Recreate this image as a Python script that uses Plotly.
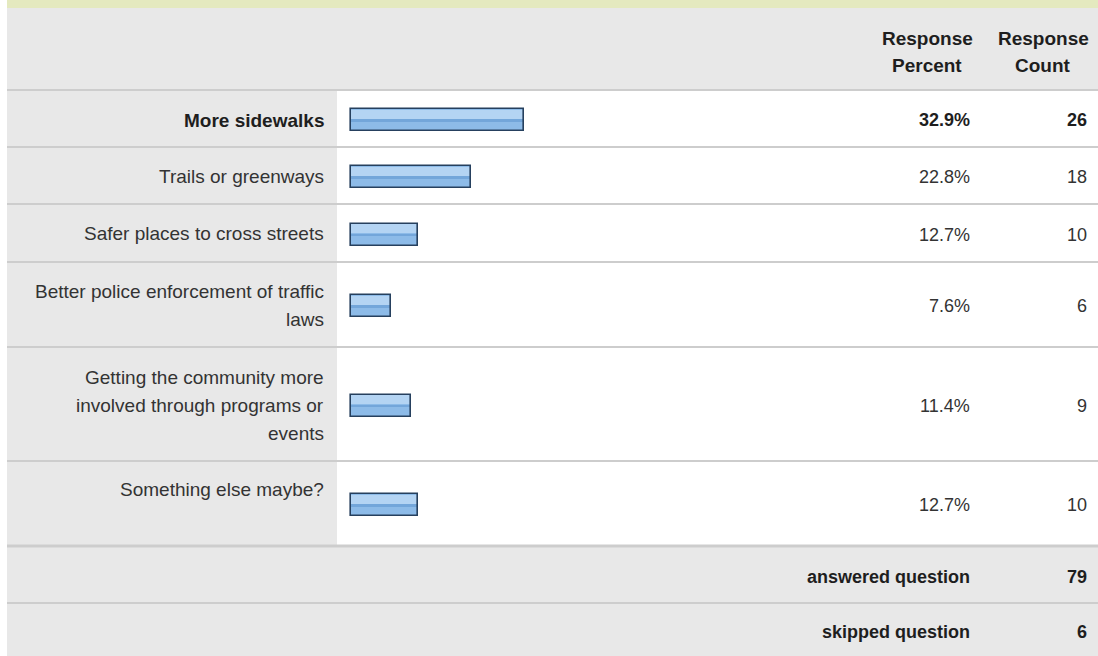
import plotly.graph_objects as go

# data
labels = [
    "More sidewalks",
    "Trails or greenways",
    "Safer places to cross streets",
    "Better police enforcement of traffic<br>laws",
    "Getting the community more<br>involved through programs or<br>events",
    "Something else maybe?",
]
percents = [32.9, 22.8, 12.7, 7.6, 11.4, 12.7]
counts = [26, 18, 10, 6, 9, 10]
summary_labels = ["answered question", "skipped question"]
summary_values = [79, 6]
header_cols = ["Response<br>Percent", "Response<br>Count"]

# layout (pixels)
W, H = 1098, 656
LEFT = 7
LABEL_COL_R = 337
BAR_X0 = 351
PX_PER_PCT = 5.25
row_edges = [90, 147, 204, 262, 347, 461, 546]
label_first_y = [120, 176, 233, 291, 377, 489]
summary_edges = [546, 603, 656]
LINE_STEP = 28
GRAY = "#e8e8e8"
SEP = "#cdcdcd"
TXT = "#333333"
BOLD_TXT = "#1e1e1e"
FONT = "Liberation Sans, Arial, sans-serif"

row_centers = [(row_edges[i] + row_edges[i + 1]) / 2 + 1.5 for i in range(len(labels))]

fig = go.Figure()

# glossy bar: base fill, highlight band, mid line, then outline on top
fig.add_trace(go.Bar(x=percents, y=row_centers, orientation="h", width=22,
                     marker=dict(color="#8dbbe8", line=dict(width=0))))
fig.add_trace(go.Bar(x=percents, y=[c - 6 for c in row_centers], orientation="h", width=9,
                     marker=dict(color="#b4d4f3", line=dict(width=0))))
fig.add_trace(go.Bar(x=percents, y=[c + 0.5 for c in row_centers], orientation="h", width=2.5,
                     marker=dict(color="#73a6da", line=dict(width=0))))
fig.add_trace(go.Bar(x=percents, y=row_centers, orientation="h", width=22,
                     marker=dict(color="rgba(0,0,0,0)", line=dict(color="#26405e", width=1.6))))

shapes = []
# top strip
shapes.append(dict(type="rect", xref="paper", yref="y", x0=LEFT / W, x1=1, y0=0, y1=8,
                   fillcolor="#e4e9bf", line_width=0, layer="below"))
# header
shapes.append(dict(type="rect", xref="paper", yref="y", x0=LEFT / W, x1=1, y0=8, y1=row_edges[0],
                   fillcolor=GRAY, line_width=0, layer="below"))
# label column
shapes.append(dict(type="rect", xref="paper", yref="y", x0=LEFT / W, x1=LABEL_COL_R / W,
                   y0=row_edges[0], y1=row_edges[-1], fillcolor=GRAY, line_width=0, layer="below"))
# summary rows
shapes.append(dict(type="rect", xref="paper", yref="y", x0=LEFT / W, x1=1,
                   y0=summary_edges[0], y1=H, fillcolor=GRAY, line_width=0, layer="below"))
# separators
for yy in row_edges + [summary_edges[1]]:
    w = 3 if yy == summary_edges[0] else 2
    shapes.append(dict(type="line", xref="paper", yref="y", x0=LEFT / W, x1=1, y0=yy, y1=yy,
                       line=dict(color=SEP, width=w), layer="below"))

ann = []
# header
for txt, xc in zip(header_cols, [927, 1043]):
    for j, part in enumerate(txt.split("<br>")):
        ann.append(dict(x=xc / W, y=38 + j * 27, xref="paper", yref="y", text="<b>%s</b>" % part,
                        showarrow=False, xanchor="center", yanchor="middle",
                        font=dict(family=FONT, size=19, color=BOLD_TXT)))

for i, lab in enumerate(labels):
    bold = i == 0
    for j, part in enumerate(lab.split("<br>")):
        ann.append(dict(x=326 / W, y=label_first_y[i] + j * LINE_STEP, xref="paper", yref="y",
                        text="<b>%s</b>" % part if bold else part, showarrow=False,
                        xanchor="right", yanchor="middle",
                        font=dict(family=FONT, size=19, color=BOLD_TXT if bold else TXT)))
    pct = "%.1f%%" % percents[i]
    cnt = str(counts[i])
    ann.append(dict(x=972 / W, y=row_centers[i], xref="paper", yref="y",
                    text="<b>%s</b>" % pct if bold else pct, showarrow=False,
                    xanchor="right", yanchor="middle",
                    font=dict(family=FONT, size=18, color=BOLD_TXT if bold else TXT)))
    ann.append(dict(x=1089 / W, y=row_centers[i], xref="paper", yref="y",
                    text="<b>%s</b>" % cnt if bold else cnt, showarrow=False,
                    xanchor="right", yanchor="middle",
                    font=dict(family=FONT, size=18, color=BOLD_TXT if bold else TXT)))

for k, (lab, val) in enumerate(zip(summary_labels, summary_values)):
    yc = (summary_edges[k] + summary_edges[k + 1]) / 2 + 2
    ann.append(dict(x=972 / W, y=yc, xref="paper", yref="y", text="<b>%s</b>" % lab,
                    showarrow=False, xanchor="right", yanchor="middle",
                    font=dict(family=FONT, size=18, color=BOLD_TXT)))
    ann.append(dict(x=1089 / W, y=yc, xref="paper", yref="y", text="<b>%s</b>" % val,
                    showarrow=False, xanchor="right", yanchor="middle",
                    font=dict(family=FONT, size=18, color=BOLD_TXT)))

fig.update_layout(
    width=W, height=H,
    margin=dict(l=0, r=0, t=0, b=0),
    paper_bgcolor="white", plot_bgcolor="white",
    barmode="overlay", bargap=0, showlegend=False,
    shapes=shapes, annotations=ann,
    xaxis=dict(range=[-BAR_X0 / PX_PER_PCT, (W - BAR_X0) / PX_PER_PCT], visible=False, fixedrange=True),
    yaxis=dict(range=[H, 0], visible=False, fixedrange=True),
    hovermode=False,
)

# drop the default page margin so the figure sits at the window's top-left corner
fig.write_html("out.html", config={"displayModeBar": False},
               post_script="document.body.style.margin='0';document.body.style.overflow='hidden';")
